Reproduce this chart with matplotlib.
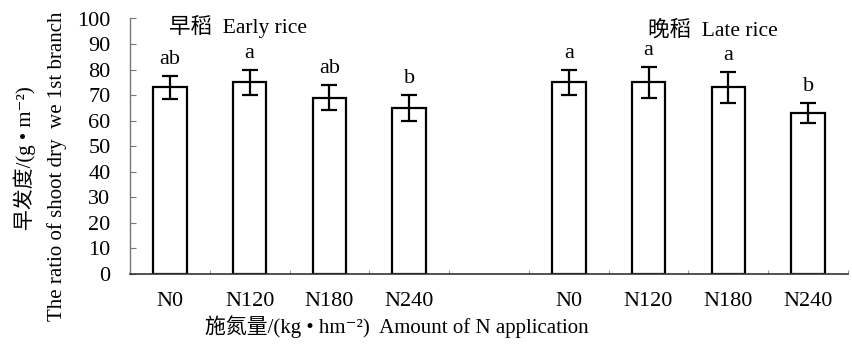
"""Shoot dry weight ratio of 1st branch under N rates — early vs late rice."""

import matplotlib
matplotlib.use("Agg")
import matplotlib.pyplot as plt
from matplotlib.ticker import FixedLocator
import numpy as np

plt.rcParams["font.family"] = ["Liberation Serif", "Noto Sans CJK SC", "DejaVu Sans"]

# Data
treatments = ["N0", "N120", "N180", "N240"]
early_mean = [73, 75, 69, 65]
early_err = [4.5, 5, 5, 5]
early_sig = ["ab", "a", "ab", "b"]
late_mean = [75, 75, 73, 63]
late_err = [5, 6, 6, 4]
late_sig = ["a", "a", "a", "b"]

FS = 16

fig = plt.figure(figsize=(8.52, 3.44), dpi=100)
ax = fig.add_axes([130 / 852, 70 / 344, 718 / 852, 255.5 / 344])

x_early = np.arange(len(treatments))
x_late = x_early + len(treatments) + 1
xs = np.concatenate([x_early, x_late])
means = early_mean + late_mean
errs = early_err + late_err
sigs = early_sig + late_sig

ax.bar(xs, means, width=0.42, color="white", edgecolor="black", linewidth=1.6, zorder=2)
ax.errorbar(xs, means, yerr=errs, fmt="none", ecolor="black", elinewidth=1.6,
            capsize=5.5, capthick=1.6, zorder=3)

for x, m, e, s in zip(xs, means, errs, sigs):
    ax.annotate(s, xy=(x, m + e), xytext=(0, 5), textcoords="offset points",
                ha="center", va="bottom", fontsize=FS)

ax.text(0.85, 97, "早稻  Early rice", ha="center", va="center", fontsize=15.5)
ax.text(6.8, 95.5, "晚稻  Late rice", ha="center", va="center", fontsize=15.5)

ax.set_xlim(-0.5, xs[-1] + 0.5)
ax.set_ylim(0, 100)
ax.set_yticks(np.arange(0, 101, 10))
ax.set_xticks(xs)
ax.set_xticklabels(treatments * 2)
ax.xaxis.set_minor_locator(FixedLocator(np.arange(-0.5, xs[-1] + 1, 1.0)))

ax.tick_params(axis="y", direction="in", length=4, width=0.8, color="#777777",
               labelsize=FS, pad=14)
ax.tick_params(axis="x", which="major", length=0, labelsize=FS, pad=13)
ax.tick_params(axis="x", which="minor", direction="in", length=3, width=0.8,
               color="#999999")

for side in ("top", "right"):
    ax.spines[side].set_visible(False)
ax.spines["left"].set_color("#777777")
ax.spines["left"].set_linewidth(1.0)
ax.spines["bottom"].set_color("#333333")
ax.spines["bottom"].set_linewidth(1.2)

fig.text(25 / 852, 1 - 158 / 344, "早发度/(g • m⁻²)", rotation=90,
         ha="center", va="center", fontsize=15)
fig.text(57 / 852, 1 - 166 / 344, "The ratio of shoot dry  we 1st branch", rotation=90,
         ha="center", va="center", fontsize=15)
fig.text(397 / 852, 1 - 327 / 344, "施氮量/(kg • hm⁻²)  Amount of N application",
         ha="center", va="center", fontsize=15)

fig.savefig("out.png", dpi=100, facecolor="white")
